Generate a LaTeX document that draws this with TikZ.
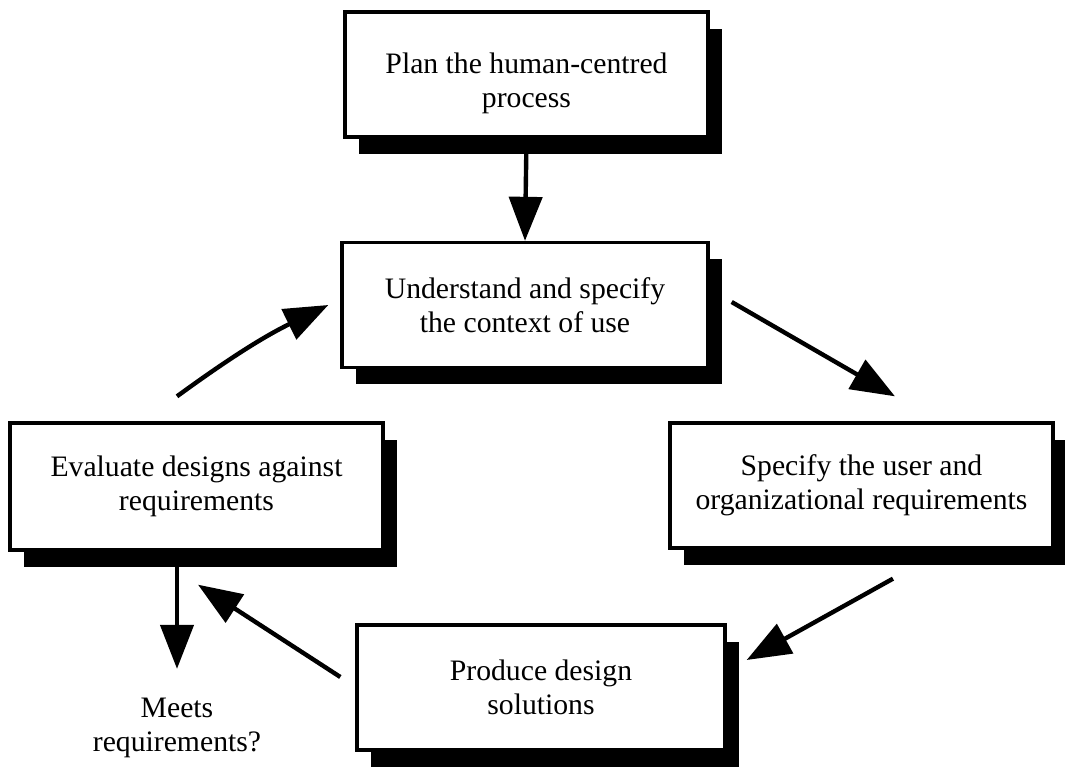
\documentclass[tikz,border=0pt]{standalone}
\usepackage{fontspec}
\setmainfont{Liberation Serif}
\usetikzlibrary{positioning, arrows.meta, shadows}

\begin{document}
\begin{tikzpicture}[
            stage/.style={rectangle, draw, line width=1.9pt, fill=white,
                minimum height=2.5cm, align=center,
                font=\fontsize{16.9}{19.4}\selectfont,
                drop shadow={opacity=1, fill=black, shadow xshift=0.28cm, shadow yshift=-0.34cm}},
            flow/.style={line width=2.5pt, -{Triangle[length=0.88cm, width=0.66cm]}},
        ]
            \useasboundingbox (0,0) rectangle (21.3,15.32);

            \node[stage, minimum width=7.26cm] (plan) at (10.53,13.83) {\rule{0pt}{0.75cm}Plan the human-centred\\process};
            \node[stage, minimum width=7.32cm] (context) at (10.50,9.22) {Understand and specify\\the context of use};
            \node[stage, minimum width=7.66cm] (userreq) at (17.23,5.61) {Specify the user and\\organizational requirements};
            \node[stage, minimum width=7.36cm] (design) at (10.82,1.57) {Produce design\\solutions};
            \node[stage, minimum width=7.46cm, minimum height=2.54cm] (evaluate) at (3.93,5.59) {Evaluate designs against\\requirements};
            \node[align=center, font=\fontsize{16.9}{19.4}\selectfont] (meets) at (3.54,0.77) {Meets\\requirements?};

            \draw[flow] (plan.south) -- (context.north);
            \draw[flow] ([xshift=0.44cm, yshift=0.06cm]context.east) -- ([xshift=0.67cm, yshift=0.5cm]userreq.north);
            \draw[flow] ([xshift=0.63cm, yshift=-0.58cm]userreq.south) -- ([xshift=0.4cm, yshift=0.55cm]design.east);
            \draw[flow] ([xshift=-0.3cm, yshift=0.21cm]design.west) -- ([xshift=0.03cm, yshift=-0.66cm]evaluate.south);
            \draw[flow] ([xshift=-0.39cm, yshift=0.5cm]evaluate.north) to[bend left=5] ([xshift=-0.24cm]context.west);
            \draw[flow] (meets.north |- evaluate.south) -- ([yshift=0.45cm]meets.north);
        \end{tikzpicture}
\end{document}
